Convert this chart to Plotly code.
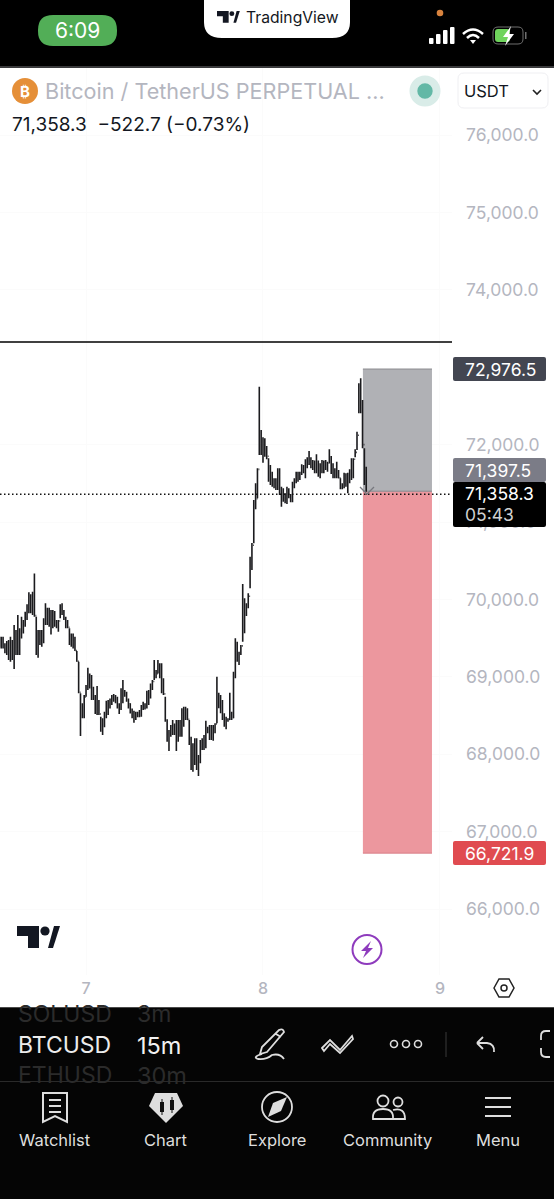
import pandas as pd
import plotly.graph_objects as go

# 15m BTCUSDT bars
highs = [
    69518, 69518, 69518, 69432, 69462, 69475, 69518, 69475, 69669, 69604,
    69798, 69626, 69776, 69733, 69841, 69936, 70091, 70065, 70099, 70336,
    69776, 69604, 69604, 69604, 69755, 69949, 69893, 69893, 69863, 69863,
    69850, 69733, 69733, 69936, 69949, 69863, 69776, 69733, 69626, 69561,
    69561, 69518, 69333, 69195, 68786, 68657, 68764, 68893, 69117, 69044,
    69023, 68872, 68764, 68881, 68700, 68484, 68463, 68549, 68691, 68700,
    68721, 68764, 68777, 68764, 68743, 68657, 68851, 68958, 68829, 68807,
    68721, 68657, 68592, 68562, 68549, 68549, 68571, 68635, 68678, 68657,
    68820, 68829, 68915, 68958, 69217, 69087, 69217, 69174, 69174, 68980,
    68743, 68450, 68312, 68377, 68441, 68398, 68441, 68441, 68441,
    68593, 68614, 68614, 68593, 68442, 68227, 68140, 68205, 68205, 67990,
    68183, 68205, 68248, 68433, 68356, 68377, 68377, 68377, 68399, 69002,
    68795, 68765, 68700, 68528, 68485, 68463, 68795, 68550, 69066, 69497,
    69454, 69325, 69411, 70199, 70014, 69949, 70079, 70552, 70730, 71284,
    71500, 71694, 72749, 72189, 72094, 72081, 71982, 71823,
    71737, 71650, 71564, 71564, 71693, 71693, 71457, 71435, 71370, 71457,
    71435, 71362, 71521, 71564, 71650, 71650, 71650, 71745, 71737, 71810,
    71836, 71917, 71836, 71801, 71793, 71874, 71793, 71758, 71801, 71793,
    71801, 71780, 71939, 71853, 71758, 71693, 71780, 71672, 71564, 71500,
    71637, 71629, 71637, 71680, 71823, 71823, 71939, 72167, 72792, 72856,
    72576, 71952, 71715,
]
lows = [
    69389, 69367, 69367, 69303, 69281, 69217, 69195, 69217, 69100, 69281,
    69281, 69281, 69496, 69561, 69647, 69733, 69820, 69820, 69798, 69776,
    69281, 69247, 69410, 69389, 69432, 69669, 69669, 69647, 69548, 69626,
    69647, 69626, 69583, 69755, 69798, 69733, 69626, 69626, 69410, 69389,
    69367, 69333, 69195, 68786, 68234, 68463, 68463, 68743, 68829, 68850,
    68700, 68700, 68519, 68506, 68506, 68291, 68247, 68347, 68463, 68506,
    68592, 68635, 68678, 68657, 68592, 68519, 68571, 68657, 68743, 68678,
    68592, 68527, 68463, 68407, 68441, 68476, 68476, 68484, 68571, 68579,
    68592, 68635, 68721, 68829, 68958, 68980, 69044, 68980, 68786, 68764,
    68420, 68161, 68041, 68226, 68247, 68247, 68041, 68161, 68226,
    68227, 68356, 68442, 68442, 68119, 67796, 67774, 67861, 67796, 67718,
    67882, 68054, 68054, 68076, 68270, 68183, 68183, 68175, 68270, 68399,
    68593, 68528, 68442, 68356, 68321, 68420, 68442, 68442, 68463, 68980,
    69196, 69153, 69282, 69454, 69562, 69786, 69885, 70143, 70380, 70725,
    71164, 71306, 71866, 71866, 71767, 71844, 71810, 71521,
    71478, 71457, 71435, 71413, 71413, 71349, 71198, 71263, 71241, 71233,
    71306, 71254, 71254, 71435, 71500, 71521, 71543, 71607, 71629, 71564,
    71693, 71737, 71693, 71672, 71629, 71629, 71586, 71564, 71629, 71629,
    71672, 71650, 71758, 71620, 71564, 71564, 71564, 71564, 71422, 71422,
    71435, 71457, 71370, 71500, 71543, 71564, 71836, 71930, 72404, 72404,
    71952, 71478, 71392,
]
closes = [
    69440, 69480, 69400, 69360, 69400, 69300, 69330, 69300, 69520, 69360,
    69580, 69520, 69700, 69660, 69800, 69880, 69990, 69900, 69850, 69790,
    69400, 69420, 69500, 69450, 69680, 69800, 69760, 69700, 69760, 69700,
    69680, 69670, 69720, 69900, 69810, 69750, 69680, 69640, 69500, 69440,
    69450, 69340, 69200, 68800, 68600, 68640, 68740, 68840, 68950, 68990,
    68760, 68730, 68700, 68560, 68520, 68350, 68400, 68520, 68600, 68660,
    68700, 68740, 68720, 68690, 68640, 68600, 68800, 68780, 68760, 68710,
    68650, 68570, 68530, 68500, 68500, 68530, 68560, 68620, 68600, 68640,
    68790, 68800, 68880, 68940, 69060, 69040, 69150, 69000, 68850, 68780,
    68440, 68290, 68300, 68350, 68330, 68380, 68200, 68350, 68390,
    68500, 68580, 68560, 68450, 68200, 67950, 68050, 67950, 67900, 67960,
    68100, 68150, 68200, 68300, 68300, 68300, 68250, 68350, 68390, 68700,
    68700, 68650, 68500, 68400, 68430, 68450, 68500, 68470, 69000, 69300,
    69250, 69300, 69400, 69800, 69850, 69900, 70040, 70400, 70700, 71200,
    71300, 71680, 72100, 72000, 71900, 71950, 71850, 71600,
    71600, 71500, 71480, 71500, 71600, 71400, 71300, 71340, 71280, 71380,
    71340, 71300, 71480, 71540, 71600, 71580, 71620, 71700, 71680, 71780,
    71800, 71760, 71720, 71720, 71760, 71700, 71660, 71720, 71700, 71750,
    71730, 71760, 71800, 71700, 71640, 71650, 71600, 71570, 71470, 71460,
    71560, 71530, 71600, 71660, 71780, 71810, 71900, 72120, 72700, 72500,
    72000, 71600, 71358.3,
]
opens = [69450] + closes[:-1]
times = pd.date_range("2024-03-06 12:15", periods=len(closes), freq="15min")

# 73,000 sits fully behind the target flag in the screenshot, so it is left out
price_ticks = [76000, 75000, 74000, 72000, 71000, 70000, 69000, 68000, 67000, 66000]
day_ticks = ["2024-03-07", "2024-03-08", "2024-03-09"]
day_labels = ["7", "8", "9"]

target_price = 72976.5
entry_price = 71397.5
stop_price = 66721.9
last_price = 71358.3
level_price = 73325
box_start = "2024-03-08 13:33"
box_end = "2024-03-08 22:55"

W, H = 554, 1199
CHART_R = 452
CHART_T = 68
CHART_B = 975
INK = "#1b1b1e"
MUTED = "#b4b6bf"
FOOT = "#dedede"
FONT = "Inter"

fig = go.Figure()

fig.add_trace(go.Ohlc(
    x=times, open=opens, high=highs, low=lows, close=closes,
    increasing_line_color=INK, decreasing_line_color=INK,
    line_width=1.6, tickwidth=0.4,
    hoverinfo="skip", showlegend=False,
))

shapes = []


def px_shape(**kw):
    shapes.append(dict(xref="x2", yref="y2", layer="above", **kw))


def rect(x0, y0, x1, y1, fill):
    px_shape(type="rect", x0=x0, y0=y0, x1=x1, y1=y1, fillcolor=fill, line_width=0)


def rrect(x0, y0, x1, y1, r, fill, line=None):
    d = (f"M{x0+r},{y0} H{x1-r} Q{x1},{y0} {x1},{y0+r} V{y1-r} Q{x1},{y1} {x1-r},{y1} "
         f"H{x0+r} Q{x0},{y1} {x0},{y1-r} V{y0+r} Q{x0},{y0} {x0+r},{y0} Z")
    px_shape(type="path", path=d, fillcolor=fill,
             line=dict(color=line or fill, width=1 if line else 0))


def circle(cx, cy, r, fill=None, line=None, width=1.5):
    px_shape(type="circle", x0=cx-r, y0=cy-r, x1=cx+r, y1=cy+r,
             fillcolor=fill or "rgba(0,0,0,0)",
             line=dict(color=line or "rgba(0,0,0,0)", width=width if line else 0))


def stroke(d, color=FOOT, width=2):
    px_shape(type="path", path=d, line=dict(color=color, width=width))


def solid(d, fill):
    px_shape(type="path", path=d, fillcolor=fill, line_width=0)


def label(x, y, text, size, color, anchor="left"):
    fig.add_annotation(x=x, y=y, xref="x2", yref="y2", text=text, showarrow=False,
                       xanchor=anchor, yanchor="middle", align=anchor,
                       font=dict(family=FONT, size=size, color=color),
                       borderpad=0, borderwidth=0)


def tv_logo(x, y, s, fill):
    solid(f"M{x},{y} H{x+22*s} V{y+22*s} H{x+11*s} V{y+10*s} H{x} Z", fill)
    circle(x+28*s, y+5*s, 4.6*s, fill=fill)
    solid(f"M{x+31*s},{y+22*s} L{x+37*s},{y} H{x+43*s} L{x+36*s},{y+22*s} Z", fill)


# position tool, above the grid but under the bars
for y0, y1, fill in [(entry_price, target_price, "#b0b1b5"), (stop_price, entry_price, "#ec979e")]:
    shapes.append(dict(type="rect", xref="x", yref="y", layer="between",
                       x0=box_start, x1=box_end, y0=y0, y1=y1,
                       fillcolor=fill, line_width=0))
for price, col in [(target_price, "#8b8c90"), (entry_price, "#85868c"), (stop_price, "#d98088")]:
    shapes.append(dict(type="line", xref="x", yref="y", layer="between",
                       x0=box_start, x1=box_end, y0=price, y1=price,
                       line=dict(color=col, width=1)))

# horizontal level and last price line
shapes.append(dict(type="line", xref="x domain", yref="y", x0=0, x1=1, y0=level_price, y1=level_price,
                   line=dict(color="#000000", width=1.5)))
shapes.append(dict(type="line", xref="x domain", yref="y", x0=0, x1=1, y0=last_price, y1=last_price,
                   line=dict(color="#111111", width=1.3, dash="1.5px,2.5px")))

# little arrow of the position tool
stroke("M360,487 L367,494 L374,487", color="#77787e", width=1.3)

# top bar
rect(0, 0, W, 66, "#000000")
rect(0, 66, W, 68, "#3a3a3c")
rrect(38, 15, 117, 46, 15, "#52ae57")
solid("M204,0 H350 V22 Q350,38 332,38 H222 Q204,38 204,22 Z", "#ffffff")
tv_logo(217, 11, 0.53, "#131722")
circle(440, 13, 3.3, fill="#d8833e")
for x, top in [(430, 38), (437, 34), (444, 30), (451, 27)]:
    rrect(x-1, top, x+3.5, 44, 1, "#ffffff")
stroke("M463,34 Q473,25 483,34", color="#ffffff", width=2.5)
stroke("M467,38 Q473,32 479,38", color="#ffffff", width=2.5)
solid("M470,40 L476,40 L473,44 Z", "#ffffff")
rrect(493, 27, 523, 44, 5, "#000000", line="#6e6e6e")
rrect(495, 29, 510, 42, 3, "#6fd45c")
solid("M511,26 L503,37 H508 L505,46 L514,34 H509 Z", "#ffffff")
rect(525, 32, 526.5, 39, "#6e6e6e")

# header row
circle(25, 91, 13, fill="#e58f38")
rrect(458, 73, 548, 108, 6, "#ffffff", line="#efeff2")
circle(425, 91, 15.5, fill="#d9ecE8")
circle(425, 91, 7.7, fill="#63b8a6")
stroke("M533,90 L537,94 L541,90", color="#222222", width=1.6)

# price flags on the axis
rrect(453, 357, 546, 381, 2, "#434651")
rrect(453, 458, 546, 482, 2, "#7b7c87")
rrect(453, 482, 546, 527, 2, "#000000")
rrect(453, 841, 546, 865, 2, "#e04b50")

# logo and lightning badge
tv_logo(17, 926, 1.0, "#131722")
circle(367, 949.5, 14.5, line="#8e3bbd", width=2)
solid("M371,941 L361,951 H366 L363,958 L373,948 H368 Z", "#8e3bbd")
stroke("M494,988 L499,979 H509 L514,988 L509,997 H499 Z", color="#222222", width=1.5)
circle(504, 988, 3, line="#222222", width=1.5)

# bottom panels
rect(0, 1007, W, H, "#050505")
rect(0, 1007, W, 1008, "#4a4a4a")
rect(0, 1081, W, 1082, "#2a2a2a")

# toolbar icons
stroke("M279,1030 Q283,1028 284,1032 L267,1052 L260,1054 L262,1047 Z M276,1034 L281,1037", width=1.8)
stroke("M262,1054 Q252,1057 258,1059 Q266,1060 272,1055 Q280,1053 284,1059", width=1.8)
stroke("M322,1048 L330,1040 L340,1050 L352,1036 L353,1039 L340,1053 L330,1044 L324,1051 Z", width=1.8)
for x in [394, 406, 418]:
    circle(x, 1044, 3.5, line=FOOT, width=1.6)
rect(445.5, 1032, 446.5, 1057, "#3a3a3a")
stroke("M477,1043 L483,1037 M477,1043 L483,1049 M477,1043 H487 Q495,1044 494,1052", width=1.8)
stroke("M550,1031 H546 Q541,1031 541,1036 V1040 M541,1048 V1052 Q541,1057 546,1057 H550", width=1.8)

# footer icons
stroke("M43,1093 H67 V1122 L55,1116 L43,1122 Z", width=2)
for y in [1100, 1106, 1112]:
    stroke(f"M49,{y} H61", width=2)
solid("M155,1093 H177 L183,1106 L166,1123 L149,1106 Z", FOOT)
rect(160, 1102, 164, 1112, "#111111")
rect(170, 1100, 174, 1110, "#111111")
rect(161.5, 1099, 162.5, 1115, "#111111")
rect(171.5, 1097, 172.5, 1113, "#111111")
circle(277, 1107, 15, line=FOOT, width=1.8)
solid("M287,1097 L281,1111 L268,1117 L273,1103 Z", FOOT)
circle(383, 1101, 5.5, line=FOOT, width=1.8)
circle(398, 1102, 4.5, line=FOOT, width=1.8)
stroke("M373,1119 Q372,1109 383,1109 Q394,1109 393,1119 Z", width=1.8)
stroke("M393,1110 Q405,1107 405,1119 H393", width=1.8)
for y in [1098, 1107, 1116]:
    stroke(f"M485,{y} H511", width=2)

# texts
label(77.5, 30.5, "6:09", 21, "#ffffff", "center")
label(246, 17, "TradingView", 15.7, "#131722")
label(25, 91, "<b>₿</b>", 15, "#ffffff", "center")
label(45, 91, "Bitcoin / TetherUS PERPETUAL ...", 21.6, MUTED)
label(464, 91, "USDT", 16.5, "#131722")
label(12, 124, "71,358.3  −522.7 (−0.73%)", 19, "#131722")

label(465, 369, f"{target_price:,.1f}", 17.5, "#ffffff")
label(465, 470, f"{entry_price:,.1f}", 17.5, "#ffffff")
label(465, 493, f"{last_price:,.1f}", 17.5, "#ffffff")
label(465, 514, "05:43", 17.5, "#d0d0d0")
label(465, 853, f"{stop_price:,.1f}", 17.5, "#ffffff")

label(18, 1014, "SOLUSD", 23, "#2b2b2b")
label(137, 1014, "3m", 23, "#2b2b2b")
label(18, 1045, "BTCUSD", 23, "#ececec")
label(137, 1045, "15m", 23.5, "#f2f2f2")
label(18, 1075, "ETHUSD", 23, "#2b2b2b")
label(137, 1075, "30m", 23.5, "#2b2b2b")

for x, text in [(55, "Watchlist"), (166, "Chart"), (277, "Explore"), (387, "Community"), (498, "Menu")]:
    label(x, 1140, text, 16.5, FOOT, "center")

fig.update_layout(
    width=W, height=H, autosize=False,
    margin=dict(l=0, r=0, t=0, b=0, pad=0),
    paper_bgcolor="#ffffff",
    plot_bgcolor="rgba(0,0,0,0)",
    showlegend=False,
    shapes=shapes,
    hovermode=False,
    xaxis=dict(
        domain=[0, CHART_R / W],
        type="date",
        range=["2024-03-06 12:20", "2024-03-09 01:38"],
        rangeslider=dict(visible=False),
        tickmode="array", tickvals=day_ticks, ticktext=day_labels,
        tickfont=dict(family=FONT, size=16, color=MUTED, weight=500),
        ticklabelstandoff=2,
        ticks="", showline=False, zeroline=False,
        showgrid=True, gridcolor="#fbfbfb", anchor="y",
    ),
    yaxis=dict(
        domain=[1 - CHART_B / H, 1 - CHART_T / H],
        range=[65147.3, 76865.6],
        side="right", anchor="x",
        tickmode="array", tickvals=price_ticks, tickformat=",.1f",
        tickfont=dict(family=FONT, size=17.5, color=MUTED),
        ticklabelstandoff=13,
        ticks="", showline=False, zeroline=False,
        showgrid=True, gridcolor="#fbfbfb",
    ),
    # whole-page pixel axes for the app chrome around the chart
    xaxis2=dict(domain=[0, 1], range=[0, W], visible=False, anchor="y2", fixedrange=True),
    yaxis2=dict(domain=[0, 1], range=[H, 0], visible=False, anchor="x2", fixedrange=True),
)

fig.write_html("out.html", config=dict(displayModeBar=False),
               post_script="document.body.style.margin='0';document.body.style.overflow='hidden';")
